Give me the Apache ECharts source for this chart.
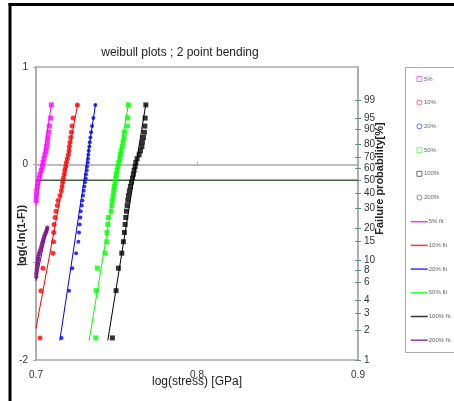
<!DOCTYPE html>
<html>
<head>
<meta charset="utf-8">
<script src="https://cdn.jsdelivr.net/npm/echarts@6/dist/echarts.min.js"></script>
<style>
html,body{margin:0;padding:0;background:#fff;}
#c{width:454px;height:401px;}
</style>
</head>
<body>
<div id="c"></div>
<script>
// Weibull rank positions, log(-ln(1-F)) for the 30 ranked specimens
const yRank = [-1.774,-1.290,-1.060,-0.906,-0.789,-0.694,-0.612,-0.541,-0.477,-0.419,
  -0.366,-0.316,-0.268,-0.223,-0.180,-0.138,-0.098,-0.058,-0.018,0.021,
  0.061,0.101,0.142,0.185,0.230,0.278,0.332,0.395,0.477,0.612];

// 5% series (only ranks 11..30 are inside the axis range)
const x5 = [0.7001,0.7002,0.70044,0.70081,0.70124,0.70187,0.70249,0.70330,0.70392,0.70435,
  0.70498,0.70560,0.70622,0.70665,0.70703,0.70746,0.70790,0.70827,0.70914,0.70951];
const y5 = yRank.slice(10);

const x10 = [0.70249,0.70311,0.70435,0.71057,0.71088,0.71101,0.71119,0.71182,0.71244,0.71325,
  0.71368,0.71493,0.71573,0.71617,0.71660,0.71698,0.71760,0.71785,0.71847,0.71884,
  0.71947,0.72009,0.72052,0.72071,0.72114,0.72158,0.72195,0.72239,0.72301,0.72568];
const x20 = [0.71586,0.72052,0.72257,0.72488,0.72631,0.72674,0.72718,0.72755,0.72780,0.72842,
  0.72879,0.72923,0.72966,0.73004,0.73047,0.73091,0.73109,0.73153,0.73172,0.73215,
  0.73234,0.73253,0.73277,0.73315,0.73340,0.73377,0.73420,0.73483,0.73563,0.73688];
const x50 = [0.73713,0.73750,0.73812,0.74291,0.74397,0.74415,0.74459,0.74496,0.74664,0.74708,
  0.74745,0.74789,0.74832,0.74869,0.74913,0.74956,0.74994,0.75037,0.75081,0.75143,
  0.75205,0.75243,0.75286,0.75367,0.75410,0.75473,0.75491,0.75678,0.75703,0.75740];
const x100 = [0.74745,0.74975,0.75118,0.75330,0.75429,0.75491,0.75535,0.75578,0.75616,0.75659,
  0.75703,0.75740,0.75802,0.75864,0.75927,0.75989,0.76051,0.76095,0.76157,0.76200,
  0.76281,0.76406,0.76487,0.76574,0.76611,0.76673,0.76735,0.76760,0.76779,0.76822];

// 200% series (visible points)
const x200 = [0.70019,0.70019,0.70044,0.70062,0.70081,0.70106,0.70124,0.70143,0.70187,0.70230,
  0.70292,0.70330,0.70373,0.70417,0.70454,0.70498,0.70560,0.70622,0.70665,0.70703];
const y200 = [-1.147,-1.112,-1.079,-1.045,-1.020,-0.994,-0.969,-0.943,-0.915,-0.892,
  -0.867,-0.840,-0.813,-0.789,-0.765,-0.738,-0.714,-0.693,-0.670,-0.646];

// fit lines (end points)
const fit5X = [0.7000, 0.7096],   fit5Y = [-0.42, 0.62];
const fit10X = [0.7000, 0.7259],  fit10Y = [-1.675, 0.62];
const fit20X = [0.7148, 0.7370],  fit20Y = [-1.80, 0.62];
const fit50X = [0.7330, 0.7574],  fit50Y = [-1.80, 0.62];
const fit100X = [0.7446, 0.7682], fit100Y = [-1.80, 0.62];
const fit200X = [0.7000, 0.7072], fit200Y = [-1.19, -0.63];

// 50% failure reference line
const medianY = -0.159;
const xRange = [0.7, 0.9];

// right axis: failure probability labels [%]
const probLabels = [1,2,3,4,6,8,10,15,20,30,40,50,60,70,80,90,95,99];

const colors = {'5%':'#ff00ff','10%':'#ff0000','20%':'#0000ff','50%':'#00ff00','100%':'#000000','200%':'#7d0a86'};

// axis transform of the probability scale (Weibull paper)
const probPos = probLabels.map(p => Math.log10(-Math.log(1 - p/100)));

function zip(xs, ys){ return xs.map((x,i)=>[x, ys[i]]); }

const FONT = 'Liberation Sans, Arial, sans-serif';

const chart = echarts.init(document.getElementById('c'), null, {renderer:'canvas'});

function scatter(name, xs, ys, symbol, size){
  return {name, type:'scatter', xAxisIndex:0, yAxisIndex:0, data: zip(xs, ys),
    symbol, symbolSize:size, itemStyle:{color:colors[name]}, z:5, clip:true, silent:true};
}
function fit(name, key, xs, ys){
  return {name, type:'line', xAxisIndex:0, yAxisIndex:0, data: zip(xs, ys), symbol:'none',
    lineStyle:{color:colors[key], width:1}, itemStyle:{color:colors[key]}, z:3, clip:true, silent:true};
}

function legendIcon(name, icon){
  return {name, icon, itemStyle:{color:'#ffffff', borderColor:colors[name], borderWidth:0.8, opacity:0.7}};
}

const option = {
  animation:false,
  backgroundColor:'#ffffff',
  title:{text:'weibull plots ; 2 point bending', left:175, top:42, textAlign:'center',
    textStyle:{fontFamily:FONT, fontSize:12, fontWeight:'normal', color:'#222'}},
  grid:{left:36, right:96, top:67, bottom:41, outerBoundsMode:'none', containLabel:false,
    show:true, borderColor:'#a9a9a9', borderWidth:1.5, backgroundColor:'transparent'},
  legend:[
    {orient:'vertical', left:416.5, top:76, padding:0, itemWidth:5, itemHeight:5, itemGap:17.7,
     textStyle:{fontFamily:FONT, fontSize:6, lineHeight:6, color:'#666', padding:[0,0,0,-3]},
     selectedMode:false,
     data:[legendIcon('5%','rect'),legendIcon('10%','circle'),legendIcon('20%','circle'),
           legendIcon('50%','rect'),legendIcon('100%','rect'),legendIcon('200%','circle')]},
    {orient:'vertical', left:410, top:218.7, padding:0, itemWidth:17, itemHeight:5, itemGap:17.7,
     textStyle:{fontFamily:FONT, fontSize:6, lineHeight:6, color:'#666', padding:[0,0,0,-4]},
     itemStyle:{opacity:0}, lineStyle:{width:1.5, opacity:0.8},
     selectedMode:false,
     data:['5% fit','10% fit','20% fit','50% fit','100% fit','200% fit']}
  ],
  xAxis:{type:'value', min:xRange[0], max:xRange[1], interval:0.1,
    axisLine:{show:true, lineStyle:{color:'#a9a9a9', width:1.5}},
    axisTick:{show:true, inside:true, length:3, lineStyle:{color:'#a9a9a9'}},
    axisLabel:{fontFamily:FONT, fontSize:10, color:'#333', margin:10, formatter:v=>v.toFixed(1)},
    splitLine:{show:false},
    name:'log(stress) [GPa]', nameLocation:'middle', nameGap:16, nameMoveOverlap:false,
    nameTextStyle:{fontFamily:FONT, fontSize:12, color:'#222'}},
  yAxis:[
    {type:'value', position:'left', min:-2, max:1, interval:1,
     axisLine:{show:true, lineStyle:{color:'#a9a9a9', width:1.5}},
     axisTick:{show:true, length:3, lineStyle:{color:'#a9a9a9'}},
     axisLabel:{fontFamily:FONT, fontSize:10, color:'#333', margin:8},
     splitLine:{show:false},
     name:'log(-ln(1-F))', nameLocation:'middle', nameRotate:90, nameGap:8.5, nameMoveOverlap:false,
     nameTextStyle:{fontFamily:FONT, fontSize:11, fontWeight:'bold', color:'#222', padding:[0,44,0,0]}},
    {type:'value', position:'right', min:-2, max:1,
     axisLine:{show:true, lineStyle:{color:'#a9a9a9', width:1.5}},
     axisTick:{show:true, length:3, customValues:probPos, lineStyle:{color:'#5f8f86'}},
     axisLabel:{fontFamily:FONT, fontSize:10, color:'#333', margin:6, customValues:probPos,
       formatter:function(v){
         let best=0, bd=1e9;
         probPos.forEach((p,i)=>{const d=Math.abs(p-v); if(d<bd){bd=d;best=i;}});
         return String(probLabels[best]);
       }},
     splitLine:{show:false},
     name:'Failure probability[%]', nameLocation:'middle', nameRotate:90, nameGap:16.5, nameMoveOverlap:false,
     nameTextStyle:{fontFamily:FONT, fontSize:11, fontWeight:'bold', color:'#222', padding:[0,0,0,70]}},
    {type:'value', position:'right', min:-2, max:1,
     axisLine:{show:false},
     axisTick:{show:true, inside:true, length:3, customValues:probPos, lineStyle:{color:'#5f8f86'}},
     axisLabel:{show:false}, splitLine:{show:false}}
  ],
  graphic:[
    {type:'rect', shape:{x:405.5, y:67.5, width:60, height:285}, style:{fill:'none', stroke:'#a9a9a9', lineWidth:1}, silent:true, z:-1},
    {type:'line', shape:{x1:10, y1:3, x2:10, y2:401}, style:{stroke:'#000', lineWidth:3}, silent:true},
    {type:'line', shape:{x1:8.5, y1:4.5, x2:454, y2:4.5}, style:{stroke:'#000', lineWidth:3}, silent:true}
  ],
  series:[
    {name:'median', type:'line', data: zip(xRange, [medianY, medianY]), symbol:'none',
     lineStyle:{color:'#41633f', width:1.5}, z:2, silent:true},
    fit('5% fit','5%',fit5X,fit5Y),
    fit('10% fit','10%',fit10X,fit10Y),
    fit('20% fit','20%',fit20X,fit20Y),
    fit('50% fit','50%',fit50X,fit50Y),
    fit('100% fit','100%',fit100X,fit100Y),
    fit('200% fit','200%',fit200X,fit200Y),
    scatter('5%', x5, y5, 'rect', 5),
    scatter('10%', x10, yRank, 'circle', 5),
    scatter('20%', x20, yRank, 'circle', 4),
    scatter('50%', x50, yRank, 'rect', 5),
    scatter('100%', x100, yRank, 'rect', 5),
    scatter('200%', x200, y200, 'circle', 4.5)
  ]
};
chart.setOption(option);
</script>
</body>
</html>
